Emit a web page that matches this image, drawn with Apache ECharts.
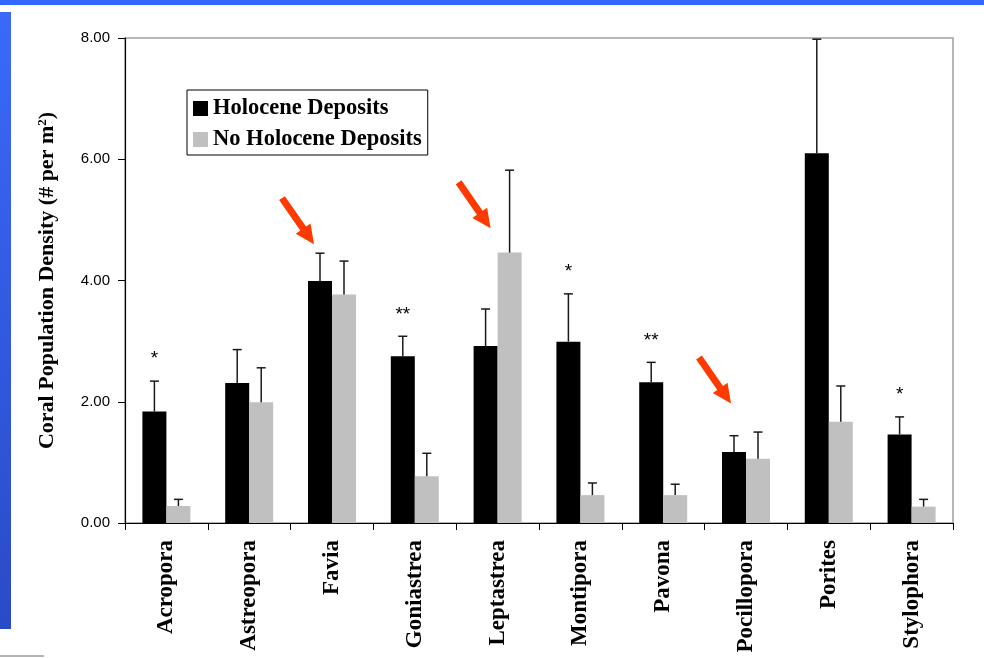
<!DOCTYPE html>
<html>
<head>
<meta charset="utf-8">
<script src="https://cdn.jsdelivr.net/npm/echarts@6/dist/echarts.min.js"></script>
<style>
  html, body { margin: 0; padding: 0; background: #fff; }
  #chart { width: 984px; height: 658px; }
</style>
</head>
<body>
<div id="chart"></div>
<script>
// Coral genera surveyed
const categories = ['Acropora', 'Astreopora', 'Favia', 'Goniastrea', 'Leptastrea',
  'Montipora', 'Pavona', 'Pocillopora', 'Porites', 'Stylophora'];

// Mean density (# per m²) and upper error (SE) per genus
const holocene      = [1.84, 2.31, 3.99, 2.75, 2.92, 2.99, 2.32, 1.17, 6.10, 1.46];
const holoceneErr   = [0.50, 0.55, 0.46, 0.33, 0.61, 0.79, 0.33, 0.27, 1.88, 0.29];
const noHolocene    = [0.28, 1.99, 3.77, 0.77, 4.46, 0.46, 0.46, 1.06, 1.67, 0.27];
const noHoloceneErr = [0.11, 0.57, 0.55, 0.38, 1.36, 0.20, 0.18, 0.44, 0.59, 0.12];

// Significance markers shown above the Holocene bars
const significance = ['*', '', '', '**', '', '*', '**', '', '', '*'];

// Highlighted genera: arrow tip at [genus, density]
const arrowTips = [['Favia', 4.60], ['Leptastrea', 4.86], ['Pocillopora', 1.97]];

const seriesNames = ['Holocene Deposits', 'No Holocene Deposits'];
const yMin = 0, yMax = 8, yStep = 2;

const BAR_W = 24;
const ARROW_SHIFT = { Favia: -18, Leptastrea: -7, Pocillopora: -15 };
const SERIF = '"Liberation Serif", "Times New Roman", serif';
const SANS = '"Liberation Sans", Arial, Helvetica, sans-serif';

const chart = echarts.init(document.getElementById('chart'), null, { renderer: 'canvas' });

function errorBarItem(offset) {
  return function (params, api) {
    const i = api.value(0);
    const v = api.value(1);
    const e = api.value(2);
    const mark = api.value(3);
    const base = api.coord([i, v]);
    const top = api.coord([i, v + e]);
    const x = base[0] + offset;
    const style = { stroke: '#1a1a1a', lineWidth: 1.5 };
    const children = [
      { type: 'line', shape: { x1: x, y1: base[1], x2: x, y2: top[1] }, style },
      { type: 'line', shape: { x1: x - 4.5, y1: top[1], x2: x + 4.5, y2: top[1] }, style }
    ];
    if (mark) {
      children.push({
        type: 'text',
        style: {
          text: mark, x: x, y: top[1] - 22,
          align: 'center', verticalAlign: 'middle',
          font: '19px ' + SANS, fill: '#000'
        }
      });
    }
    return { type: 'group', children };
  };
}

function arrowItem(params, api) {
  const idx = api.value(0);
  const tip = api.coord([idx, api.value(1)]);
  const tx = tip[0] + (ARROW_SHIFT[categories[idx]] || 0), ty = tip[1];
  // arrow points down-right toward the bars
  const dx = 32, dy = 46;
  const len = Math.sqrt(dx * dx + dy * dy);
  const ux = dx / len, uy = dy / len;
  const nx = -uy, ny = ux;
  const headLen = 19, headHalf = 9, shaftHalf = 3.5;
  const bx = tx - ux * headLen, by = ty - uy * headLen;
  const sx = tx - ux * len, sy = ty - uy * len;
  const pts = [
    [sx + nx * shaftHalf, sy + ny * shaftHalf],
    [bx + nx * shaftHalf, by + ny * shaftHalf],
    [bx + nx * headHalf, by + ny * headHalf],
    [tx, ty],
    [bx - nx * headHalf, by - ny * headHalf],
    [bx - nx * shaftHalf, by - ny * shaftHalf],
    [sx - nx * shaftHalf, sy - ny * shaftHalf]
  ];
  return { type: 'polygon', shape: { points: pts }, style: { fill: '#ff3a00' } };
}

const option = {
  backgroundColor: '#ffffff',
  animation: false,
  grid: {
    left: 125, right: 31, top: 38, bottom: 135,
    show: true, borderColor: '#a0a0a0', borderWidth: 1.5,
    outerBoundsMode: 'none'
  },
  legend: {
    data: seriesNames,
    orient: 'vertical',
    left: 187, top: 90,
    padding: [7, 6, 4, 6],
    itemGap: 8,
    itemWidth: 15, itemHeight: 15,
    icon: 'rect',
    borderColor: '#000', borderWidth: 1,
    backgroundColor: '#fff',
    textStyle: { fontFamily: SERIF, fontWeight: 'bold', fontSize: 22.5, color: '#000' }
  },
  xAxis: {
    type: 'category',
    data: categories,
    axisLine: { lineStyle: { color: '#000', width: 1.2 } },
    axisTick: { show: true, length: 7, lineStyle: { color: '#000' }, alignWithLabel: false },
    axisLabel: {
      rotate: 90, interval: 0, margin: 17,
      fontFamily: SERIF, fontWeight: 'bold', fontSize: 23, color: '#000'
    }
  },
  yAxis: {
    type: 'value',
    min: yMin, max: yMax, interval: yStep,
    splitLine: { show: false },
    axisLine: { show: true, lineStyle: { color: '#000', width: 1.2 } },
    axisTick: { show: true, length: 7, lineStyle: { color: '#000' } },
    axisLabel: {
      margin: 15, fontFamily: SANS, fontSize: 15, color: '#000',
      formatter: v => v.toFixed(2)
    },
    name: '{t|Coral Population Density (# per m}{s|2}{t|)}',
    nameLocation: 'middle',
    nameGap: 67,
    nameRotate: 90,
    nameTextStyle: {
      rich: {
        t: { fontFamily: SERIF, fontWeight: 'bold', fontSize: 22, color: '#000' },
        s: { fontFamily: SERIF, fontWeight: 'bold', fontSize: 13, color: '#000', verticalAlign: 'top', padding: [0, 0, 9, 0] }
      }
    }
  },
  series: [
    {
      name: seriesNames[0], type: 'bar', data: holocene,
      barWidth: BAR_W, barGap: '0%',
      itemStyle: { color: '#000000' }
    },
    {
      name: seriesNames[1], type: 'bar', data: noHolocene,
      barWidth: BAR_W, barGap: '0%',
      itemStyle: { color: '#c0c0c0' }
    },
    {
      type: 'custom', name: 'err-h', z: 3, clip: false,
      renderItem: errorBarItem(-BAR_W / 2),
      data: categories.map((c, i) => [i, holocene[i], holoceneErr[i], significance[i]])
    },
    {
      type: 'custom', name: 'err-n', z: 3, clip: false,
      renderItem: errorBarItem(BAR_W / 2),
      data: categories.map((c, i) => [i, noHolocene[i], noHoloceneErr[i], ''])
    },
    {
      type: 'custom', name: 'arrows', z: 4, clip: false,
      renderItem: arrowItem,
      data: arrowTips.map(a => [categories.indexOf(a[0]), a[1]])
    }
  ],
  graphic: [
    // slide frame decoration
    { type: 'rect', left: 0, top: 0, shape: { width: 984, height: 5 }, style: { fill: '#3366ff' }, silent: true },
    {
      type: 'rect', left: 0, top: 12, shape: { width: 11, height: 617 }, silent: true,
      style: {
        fill: new echarts.graphic.LinearGradient(0, 0, 0, 1, [
          { offset: 0, color: '#3a69fa' }, { offset: 1, color: '#2a4bc6' }
        ])
      }
    },
    { type: 'rect', left: 0, top: 655, shape: { width: 44, height: 2 }, style: { fill: '#b5b5b5' }, silent: true }
  ]
};

chart.setOption(option);
</script>
</body>
</html>
